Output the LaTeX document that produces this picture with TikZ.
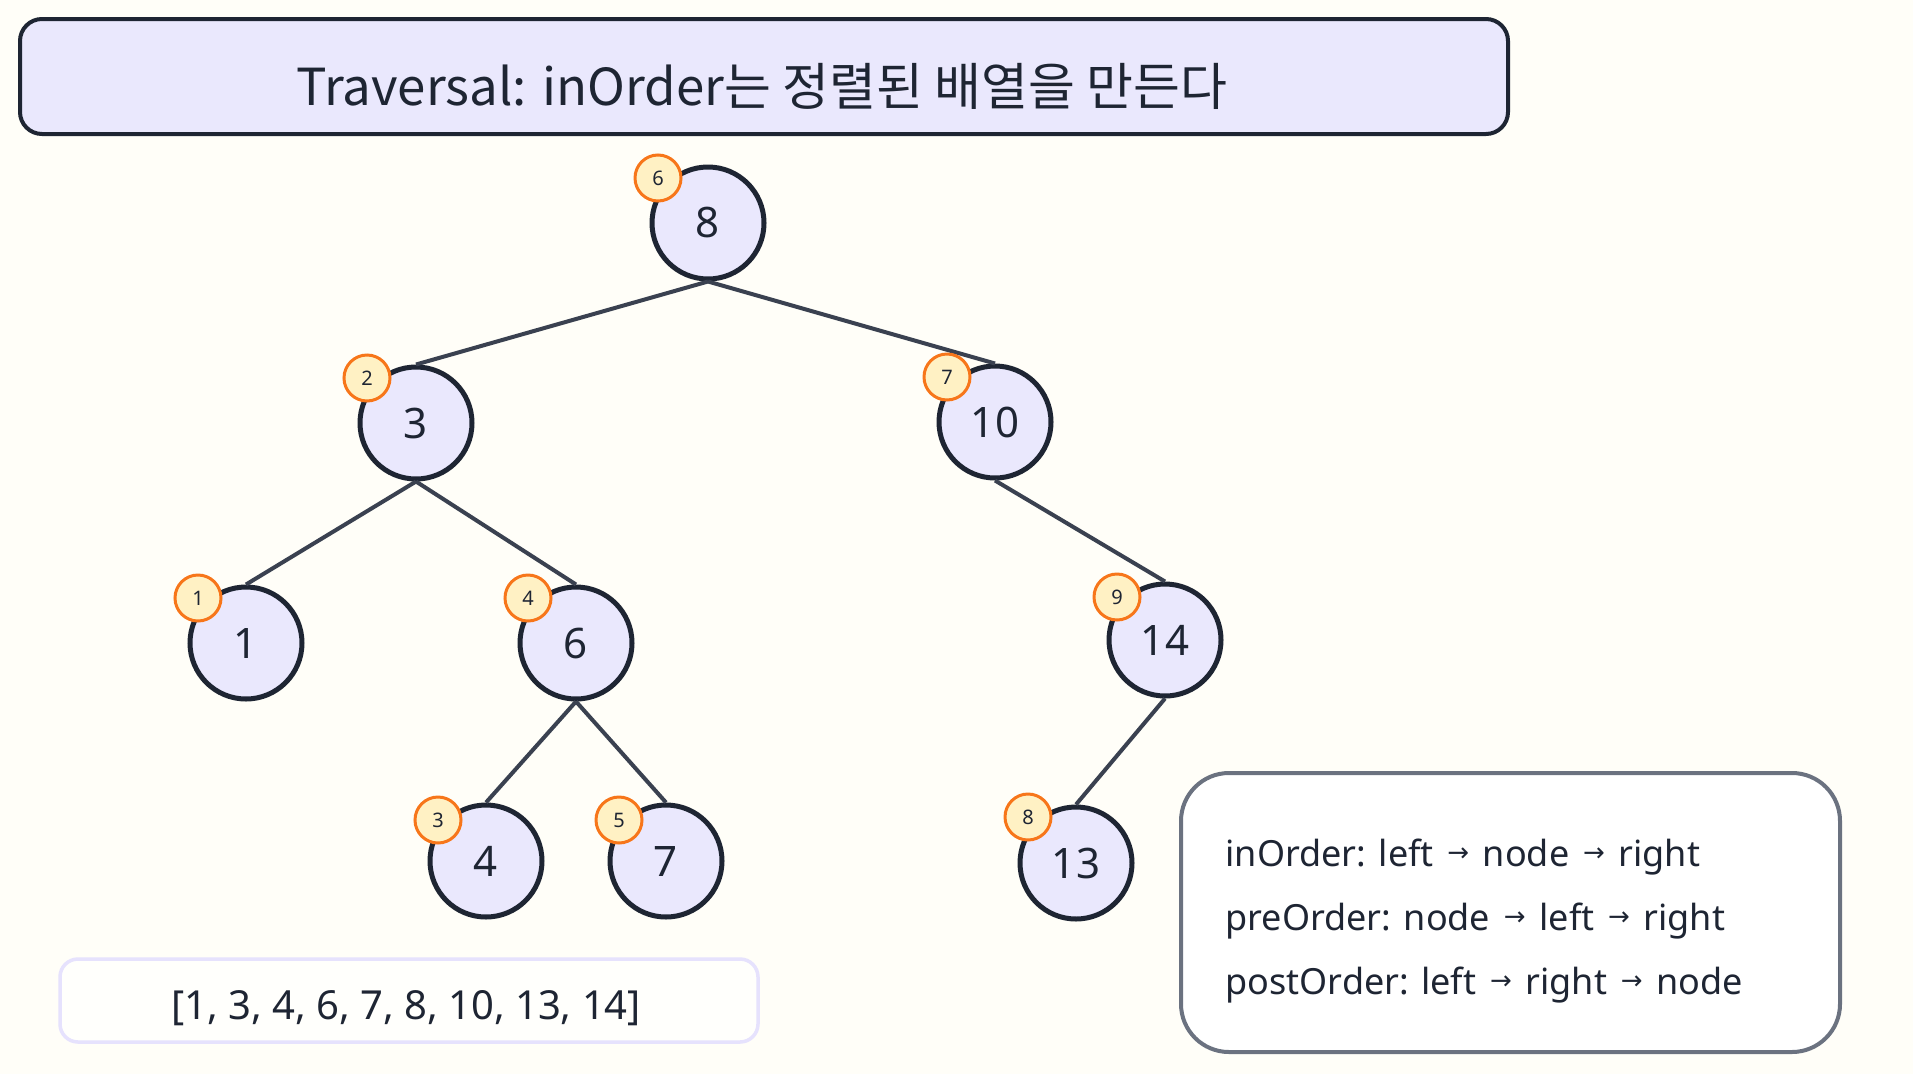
\documentclass[tikz,border=0pt]{standalone}
\usepackage{fontspec}
\setmainfont{Noto Sans}
\newfontfamily\krfont{Noto Sans CJK KR}
\newfontfamily\symfont{DejaVu Sans}
\definecolor{bgc}{HTML}{FFFEF8}
\definecolor{ink}{HTML}{1E2533}
\definecolor{edgec}{HTML}{3A4150}
\definecolor{lav}{HTML}{EAE8FD}
\definecolor{badgefill}{HTML}{FFF1C4}
\definecolor{badgeline}{HTML}{F7761A}
\definecolor{boxgray}{HTML}{6B7280}
\definecolor{listline}{HTML}{E6E2FD}
\newcommand{\arr}{\hspace{0.38em}{\symfont\fontsize{26}{30}\selectfont\raisebox{5pt}{→}}\hspace{0.38em}}
\begin{document}
\begin{tikzpicture}[x=1pt,y=-1pt,
  treenode/.style={circle,draw=ink,fill=lav,line width=5pt,minimum size=112pt,inner sep=0pt,text=ink,font=\fontsize{42}{50}\selectfont},
  badge/.style={circle,draw=badgeline,fill=badgefill,line width=3pt,minimum size=46pt,inner sep=0pt,text=ink,font=\fontsize{20}{24}\selectfont},
  link/.style={draw=edgec,line width=4pt},
  titlebox/.style={draw=ink,fill=lav,line width=4pt,rounded corners=22pt},
  listbox/.style={draw=listline,fill=white!60!bgc,line width=3.5pt,rounded corners=18pt},
  legendbox/.style={draw=boxgray,fill=white,line width=4pt,rounded corners=48pt}]
\fill[bgc] (0,0) rectangle (1913,1074);
\useasboundingbox (0,0) rectangle (1913,1074);

% title
\draw[titlebox] (20,19) rectangle (1508,134);
\node[text=ink,font=\fontsize{51}{58}\selectfont\krfont] (title) at (762,86) {Traversal: inOrder는 정렬된 배열을 만든다};

% tree nodes
\node[treenode] (n8) at (708,223) {8};
\node[treenode] (n3) at (416,423) {3};
\node[treenode] (n10) at (995,422) {10};
\node[treenode] (n1) at (246,643) {1};
\node[treenode] (n6) at (576,643) {6};
\node[treenode] (n14) at (1165,640) {14};
\node[treenode] (n4) at (486,861) {4};
\node[treenode] (n7) at (666,861) {7};
\node[treenode] (n13) at (1076,863) {13};

% edges
\draw[link] (n8.south) -- (n3.north);
\draw[link] (n8.south) -- (n10.north);
\draw[link] (n3.south) -- (n1.north);
\draw[link] (n3.south) -- (n6.north);
\draw[link] (n10.south) -- (n14.north);
\draw[link] (n6.south) -- (n4.north);
\draw[link] (n6.south) -- (n7.north);
\draw[link] (n14.south) -- (n13.north);

% badges
\node[badge] (b8) at (658,178) {6};
\node[badge] (b3) at (367,378) {2};
\node[badge] (b10) at (947,377) {7};
\node[badge] (b1) at (198,598) {1};
\node[badge] (b6) at (528,598) {4};
\node[badge] (b14) at (1117,597) {9};
\node[badge] (b4) at (438,820) {3};
\node[badge] (b7) at (619,820) {5};
\node[badge] (b13) at (1028,817) {8};

% list box
\draw[listbox] (60,959) rectangle (758,1042);
\node[text=ink,font=\fontsize{40}{46}\selectfont] (list) at (406,1008) {[1, 3, 4, 6, 7, 8, 10, 13, 14]};

% legend box
\draw[legendbox] (1181,773) rectangle (1840,1052);
\node[text=ink,font=\fontsize{36}{64}\selectfont,align=left,anchor=west] (legend) at (1222,921)
  {inOrder: left\arr{}node\arr{}right\\preOrder: node\arr{}left\arr{}right\\postOrder: left\arr{}right\arr{}node};
\end{tikzpicture}
\end{document}
